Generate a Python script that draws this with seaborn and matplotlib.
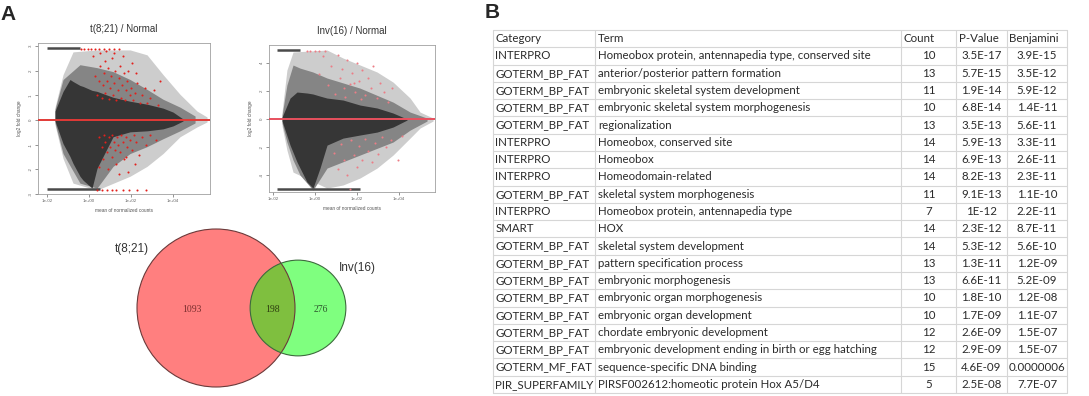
import numpy as np
import matplotlib
matplotlib.use("Agg")
import matplotlib.pyplot as plt
import seaborn as sns
from matplotlib.patches import Circle

# ---------------- panel A : MA plots ----------------
# envelopes of the grey point cloud (mean count, log2 fold change)
# core = dense black part, mid = dark grey halo, out = sparse light speckle
t821_core_x = [0.024, 0.058, 0.124, 0.173, 0.37, 0.52, 1.39, 2.4, 13.9, 90, 578, 3340, 10000, 30000]
t821_core_top = [0.36, 1.16, 1.64, 1.56, 1.40, 1.36, 1.20, 1.16, 0.92, 0.76, 0.64, 0.48, 0.32, 0.04]
t821_core_bot = [-0.04, -0.96, -1.48, -1.76, -2.28, -2.44, -2.76, -1.96, -0.68, -0.48, -0.44, -0.36, -0.24, -0.04]
t821_mid_x = [0.024, 0.058, 0.37, 2.4, 13.9, 90, 578, 3340, 21500, 112000]
t821_mid_top = [0.44, 1.64, 2.24, 2.12, 1.96, 1.64, 1.24, 0.84, 0.52, 0.16]
t821_mid_bot = [-0.12, -1.36, -2.56, -2.76, -1.88, -1.36, -1.08, -0.76, -0.44, -0.12]
t821_out_x = [0.024, 0.058, 0.173, 2.4, 90, 578, 3340, 21500, 139000, 416000]
t821_out_top = [0.52, 1.84, 2.76, 2.84, 2.84, 2.64, 1.84, 1.04, 0.36, 0.12]
t821_out_bot = [-0.20, -1.56, -2.56, -2.84, -2.28, -1.88, -1.36, -0.68, -0.28, -0.08]
t821_clip_top = [0.01, 0.37]
t821_clip_bot = [0.01, 3.3]
t821_red_x = [2.5, 3, 3.5, 4, 4.5, 5, 5.5, 6, 7, 8, 9, 10, 11, 12, 14, 16, 18, 20, 23, 26,
              30, 34, 38, 45, 50, 55, 65, 75, 85, 100, 1.5, 2, 120, 150, 200, 260, 350, 450,
              600, 800, 1200, 2000, 2500, 3.2, 6.5, 15, 40, 110, 180,
              0.4, 0.6, 0.9, 1.3, 2, 3, 5, 9, 15, 28,
              3, 4, 4.5, 5, 6, 7, 8, 9, 10, 12, 13, 15, 17, 20, 22, 25, 30, 35, 40, 45,
              55, 65, 75, 90, 110, 140, 180, 250, 350, 500, 800, 1500, 3, 60, 150, 28,
              2.5, 4, 7, 12, 20, 40, 80, 200, 500]
t821_red_y = [1.0, 1.6, 2.2, 0.9, 1.4, 1.9, 2.4, 1.1, 1.6, 2.1, 0.85, 1.3, 1.8, 2.5, 1.0, 1.5, 2.0, 0.8, 1.2, 1.7,
              2.2, 0.9, 1.4, 1.9, 0.8, 1.2, 1.6, 2.0, 1.0, 1.3, 2.6, 1.8, 0.8, 1.1, 1.5, 0.7, 1.0, 1.3,
              0.7, 0.9, 1.2, 0.6, 1.6, 2.7, 2.8, 2.7, 2.6, 2.3, 1.9,
              2.88, 2.88, 2.88, 2.88, 2.88, 2.88, 2.88, 2.88, 2.88, 2.88,
              -0.7, -1.1, -1.6, -0.6, -0.9, -1.3, -2.0, -0.7, -1.1, -1.5, -0.6, -0.9, -1.2, -1.8, -0.7, -1.0, -1.3, -0.6, -0.9, -1.6,
              -0.7, -1.1, -2.1, -0.8, -1.2, -0.6, -0.9, -1.4, -0.7, -1.0, -0.6, -0.8, -1.9, -1.5, -1.8, -2.2,
              -2.84, -2.84, -2.84, -2.84, -2.84, -2.84, -2.84, -2.84, -2.84]

inv16_core_x = [0.027, 0.065, 0.139, 0.416, 0.80, 1.73, 3.73, 21.5, 139, 896, 5180, 24000]
inv16_core_top = [0.14, 1.50, 1.93, 1.86, 1.79, 1.64, 1.50, 1.36, 1.00, 0.79, 0.43, 0.0]
inv16_core_bot = [-0.14, -1.86, -3.07, -4.50, -4.93, -3.50, -1.86, -1.36, -1.14, -0.93, -0.57, -0.07]
inv16_mid_x = [0.027, 0.046, 0.090, 0.193, 0.80, 3.73, 139, 5180, 33400, 215000]
inv16_mid_top = [0.29, 2.43, 3.86, 3.64, 3.36, 2.93, 2.21, 1.21, 0.50, 0.07]
inv16_mid_bot = [-0.29, -1.64, -2.93, -4.00, -5.07, -3.50, -2.57, -1.64, -0.79, -0.14]
inv16_out_x = [0.027, 0.046, 0.090, 3.73, 21.5, 139, 896, 5180, 33400, 100000, 416000]
inv16_out_top = [0.50, 3.50, 4.79, 4.93, 4.36, 3.86, 3.36, 2.64, 1.50, 0.50, 0.07]
inv16_out_bot = [-0.50, -2.21, -3.79, -4.93, -4.71, -4.21, -3.50, -2.57, -1.36, -0.64, -0.14]
inv16_clip_top = [0.015, 0.19]
inv16_clip_bot = [0.015, 140]
inv16_red_x = [1.5, 2.5, 4, 6, 9, 12, 15, 20, 28, 35, 45, 60, 80, 100, 130, 180, 240, 320, 450, 600,
               900, 1300, 2000, 3000, 4500, 25, 70, 160,
               0.4, 0.6, 1.0, 1.6, 3,
               8, 12, 18, 25, 35, 50, 70, 95, 130, 180, 250, 350, 500, 700, 1000, 1500, 2500, 4000, 9000, 14000,
               46]
inv16_red_y = [3.2, 4.5, 2.4, 3.8, 1.8, 4.6, 2.9, 3.6, 1.6, 4.2, 2.5, 3.3, 1.9, 4.0, 2.7, 3.5, 1.7, 2.9, 2.2, 3.8,
               1.5, 2.6, 1.9, 1.2, 2.2, 2.2, 2.6, 1.4,
               4.86, 4.86, 4.86, 4.86, 4.86,
               -2.4, -3.6, -1.8, -2.9, -4.0, -1.5, -2.6, -3.4, -1.9, -2.9, -1.4, -2.3, -3.1, -1.7, -2.5, -1.3, -2.0, -1.5, -2.9, -1.2,
               -5.0]

ma_xticks = [1e-2, 1, 1e2, 1e4]
ma_xticklabels = ["1e-02", "1e+00", "1e+02", "1e+04"]

# ---------------- Venn ----------------
venn_left_only = 1093
venn_both = 198
venn_right_only = 276
venn_names = ["t(8;21)", "Inv(16)"]

# ---------------- panel B : table ----------------
tbl_header = ["Category", "Term", "Count", "P-Value", "Benjamini"]
tbl_category = ["INTERPRO", "GOTERM_BP_FAT", "GOTERM_BP_FAT", "GOTERM_BP_FAT", "GOTERM_BP_FAT",
                "INTERPRO", "INTERPRO", "INTERPRO", "GOTERM_BP_FAT", "INTERPRO", "SMART",
                "GOTERM_BP_FAT", "GOTERM_BP_FAT", "GOTERM_BP_FAT", "GOTERM_BP_FAT", "GOTERM_BP_FAT",
                "GOTERM_BP_FAT", "GOTERM_BP_FAT", "GOTERM_MF_FAT", "PIR_SUPERFAMILY"]
tbl_term = ["Homeobox protein, antennapedia type, conserved site",
            "anterior/posterior pattern formation",
            "embryonic skeletal system development",
            "embryonic skeletal system morphogenesis",
            "regionalization",
            "Homeobox, conserved site",
            "Homeobox",
            "Homeodomain-related",
            "skeletal system morphogenesis",
            "Homeobox protein, antennapedia type",
            "HOX",
            "skeletal system development",
            "pattern specification process",
            "embryonic morphogenesis",
            "embryonic organ morphogenesis",
            "embryonic organ development",
            "chordate embryonic development",
            "embryonic development ending in birth or egg hatching",
            "sequence-specific DNA binding",
            "PIRSF002612:homeotic protein Hox A5/D4"]
tbl_count = [10, 13, 11, 10, 13, 14, 14, 14, 11, 7, 14, 14, 13, 13, 10, 10, 12, 12, 15, 5]
tbl_pvalue = ["3.5E-17", "5.7E-15", "1.9E-14", "6.8E-14", "3.5E-13", "5.9E-13", "6.9E-13", "8.2E-13",
              "9.1E-13", "1E-12", "2.3E-12", "5.3E-12", "1.3E-11", "6.6E-11", "1.8E-10", "1.7E-09",
              "2.6E-09", "2.9E-09", "4.6E-09", "2.5E-08"]
tbl_benjamini = ["3.9E-15", "3.5E-12", "5.9E-12", "1.4E-11", "5.6E-11", "3.3E-11", "2.6E-11", "2.3E-11",
                 "1.1E-10", "2.2E-11", "8.7E-11", "5.6E-10", "1.2E-09", "5.2E-09", "1.2E-08", "1.1E-07",
                 "1.5E-07", "1.5E-07", "0.0000006", "7.7E-07"]

sns.set_theme(style="white")
plt.rcParams["font.family"] = ["Liberation Sans", "DejaVu Sans"]

W, H = 1089, 396
fig = plt.figure(figsize=(W / 100, H / 100), dpi=100)


def px_rect(x0, y0, x1, y1):
    return [x0 / W, 1 - y1 / H, (x1 - x0) / W, (y1 - y0) / H]


def ma_plot(ax, title, env, clip_top, clip_bot, rx, ry, xlim, ylim, yticks, red, line_c):
    (ox, otop, obot), (mx, mtop, mbot), (cx, ctop, cbot) = env
    ax.fill_between(ox, obot, otop, color="#cdcdcd", lw=0, zorder=1)
    ax.fill_between(mx, mbot, mtop, color="#858585", lw=0, zorder=1)
    ax.fill_between(cx, cbot, ctop, color="#363636", lw=0, zorder=2)
    ax.hlines(ylim[1] * 0.93, clip_top[0], clip_top[1], color="#4a4a4a", lw=1.8, zorder=2)
    ax.hlines(ylim[0] * 0.96, clip_bot[0], clip_bot[1], color="#4a4a4a", lw=1.8, zorder=2)
    sns.scatterplot(x=rx, y=ry, ax=ax, color=red, s=2.2, linewidth=0, zorder=3)
    ax.axhline(0, color=line_c, lw=1.4, zorder=4)
    ax.set_xscale("log")
    ax.set_xlim(*xlim)
    ax.set_ylim(*ylim)
    ax.set_xticks(ma_xticks)
    ax.set_xticklabels(ma_xticklabels)
    ax.minorticks_off()
    ax.set_yticks(yticks)
    ax.set_yticklabels([str(v) for v in yticks], rotation=90, va="center")
    ax.tick_params(labelsize=3.2, length=2, width=0.5, colors="#666666", pad=1.5,
                   bottom=True, left=True)
    for s in ax.spines.values():
        s.set_color("#a0a0a0")
        s.set_linewidth(0.6)
    ax.set_xlabel("mean of normalized counts", fontsize=3.4, color="#555555", labelpad=4)
    ax.set_ylabel("log2 fold change", fontsize=3.4, color="#555555", labelpad=5)
    ax.set_title(title, fontsize=7, color="#333333", pad=8)


ax1 = fig.add_axes(px_rect(38, 43, 210, 194))
ma_plot(ax1, "t(8;21) / Normal",
        [(t821_out_x, t821_out_top, t821_out_bot),
         (t821_mid_x, t821_mid_top, t821_mid_bot),
         (t821_core_x, t821_core_top, t821_core_bot)],
        t821_clip_top, t821_clip_bot, t821_red_x, t821_red_y,
        (10 ** -2.43, 10 ** 5.76), (-2.92, 3.12), [-3, -2, -1, 0, 1, 2, 3],
        "#e3201c", "#e23a36")

ax2 = fig.add_axes(px_rect(269, 45, 435, 192))
ma_plot(ax2, "Inv(16) / Normal",
        [(inv16_out_x, inv16_out_top, inv16_out_bot),
         (inv16_mid_x, inv16_mid_top, inv16_mid_bot),
         (inv16_core_x, inv16_core_top, inv16_core_bot)],
        inv16_clip_top, inv16_clip_bot, inv16_red_x, inv16_red_y,
        (10 ** -2.19, 10 ** 5.71), (-5.21, 5.29), [-4, -2, 0, 2, 4],
        "#ec7d86", "#e8505e")

# overlay in pixel coordinates for Venn, table and panel letters
ov = fig.add_axes([0, 0, 1, 1])
ov.set_xlim(0, W)
ov.set_ylim(H, 0)
ov.axis("off")

ov.text(0, 14, "A", fontsize=15, fontweight="bold", va="center", ha="left")
ov.text(485, 13, "B", fontsize=15, fontweight="bold", va="center", ha="left")

# Venn: circle areas proportional to set sizes
k = 79 / np.sqrt(venn_left_only + venn_both)
r1 = k * np.sqrt(venn_left_only + venn_both)
r2 = k * np.sqrt(venn_right_only + venn_both)
cx1, cx2, cy = 216, 298, 308
ov.add_patch(Circle((cx1, cy), r1, facecolor="#ff0000", alpha=0.5, lw=0))
ov.add_patch(Circle((cx2, cy), r2, facecolor="#00ff00", alpha=0.5, lw=0))
ov.add_patch(Circle((cx1, cy), r1, facecolor="none", edgecolor="#6b3a3a", lw=0.8))
ov.add_patch(Circle((cx2, cy), r2, facecolor="none", edgecolor="#3d6b3d", lw=0.8))
lens_left = cx2 - r2
lens_right = cx1 + r1
ov.text(192, cy + 1, str(venn_left_only), fontsize=7,
        family="Liberation Serif", color="#7a2e2e", ha="center", va="center")
ov.text((lens_left + lens_right) / 2, cy + 1, str(venn_both), fontsize=7,
        family="Liberation Serif", color="#2e3d10", ha="center", va="center")
ov.text((lens_right + cx2 + r2) / 2, cy + 1, str(venn_right_only), fontsize=7,
        family="Liberation Serif", color="#2e5a2e", ha="center", va="center")
ov.text(132, 249, venn_names[0], fontsize=8.5, color="#333333", ha="center", va="center")
ov.text(357, 268, venn_names[1], fontsize=8.5, color="#333333", ha="center", va="center")

# table
col_edges = [493, 595, 901, 956, 1007, 1067]
top, bottom = 30, 393
n_rows = len(tbl_category) + 1
rh = (bottom - top) / n_rows
grid_c = "#d6d6d6"
for i in range(n_rows + 1):
    ov.plot([col_edges[0], col_edges[-1]], [top + i * rh] * 2, color=grid_c, lw=0.8)
for x in col_edges:
    ov.plot([x, x], [top, bottom], color=grid_c, lw=0.8)

tfont = dict(family=["Lato", "DejaVu Sans"], fontsize=8.3, color="#2a2a2a", va="center")
for j, h in enumerate(tbl_header):
    ov.text(col_edges[j] + 2.5, top + rh / 2, h, ha="left", **tfont)
for i in range(len(tbl_category)):
    yc = top + (i + 1.5) * rh
    ov.text(col_edges[0] + 2.5, yc, tbl_category[i], ha="left", **tfont)
    ov.text(col_edges[1] + 3, yc, tbl_term[i], ha="left", **tfont)
    ov.text((col_edges[2] + col_edges[3]) / 2, yc, str(tbl_count[i]), ha="center", **tfont)
    ov.text((col_edges[3] + col_edges[4]) / 2, yc, tbl_pvalue[i], ha="center", **tfont)
    ov.text((col_edges[4] + col_edges[5]) / 2, yc, tbl_benjamini[i], ha="center", **tfont)

fig.savefig("out.png", dpi=100)
